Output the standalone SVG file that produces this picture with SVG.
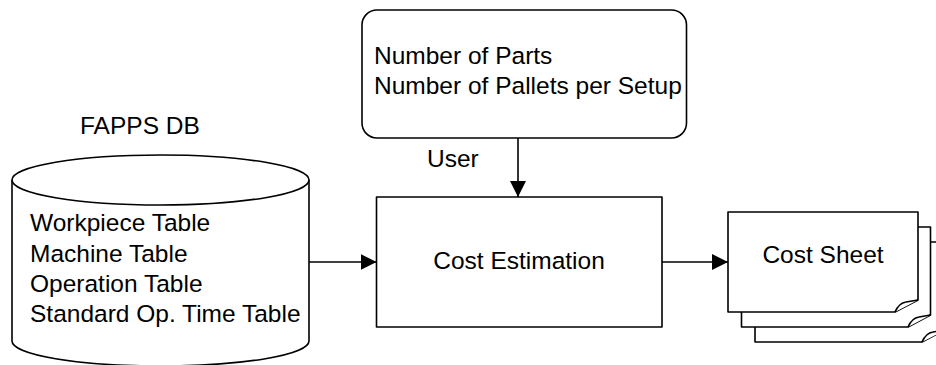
<svg xmlns="http://www.w3.org/2000/svg" width="936" height="365" viewBox="0 0 936 365">
  <style>
    .shape { fill: #ffffff; stroke: #000000; stroke-width: 1.6; stroke-linejoin: round; }
    .line { fill: none; stroke: #000000; stroke-width: 1.6; }
    .label { font-family: "Liberation Sans", Arial, sans-serif; font-size: 24.5px; fill: #000000; }
    .mid { text-anchor: middle; }
  </style>
  <defs>
    <marker id="arrow" viewBox="0 0 16 16" refX="16" refY="8" markerWidth="16" markerHeight="16" markerUnits="userSpaceOnUse" orient="auto">
      <path d="M0,0 L16,8 L0,16 Z" fill="#000000"/>
    </marker>
  </defs>

  <rect width="936" height="365" fill="#ffffff"/>

  <!-- database cylinder -->
  <g id="fapps-db">
    <path class="shape" d="M12,180 L12,341 A148.5,25 0 0 0 309,341 L309,180"/>
    <ellipse class="shape" cx="160.5" cy="180" rx="148.5" ry="25"/>
    <text class="label" x="80" y="134">FAPPS DB</text>
    <text class="label" x="30" y="231">Workpiece Table</text>
    <text class="label" x="30" y="262">Machine Table</text>
    <text class="label" x="30" y="292">Operation Table</text>
    <text class="label" x="30" y="322">Standard Op. Time Table</text>
  </g>

  <!-- user input box -->
  <g id="user-input">
    <rect class="shape" x="362" y="10" width="324.5" height="128" rx="15" ry="15"/>
    <text class="label" x="374" y="64">Number of Parts</text>
    <text class="label" x="374" y="94">Number of Pallets per Setup</text>
    <text class="label" x="427" y="167">User</text>
  </g>

  <!-- process box -->
  <g id="cost-estimation">
    <rect class="shape" x="376.5" y="197" width="285.5" height="130"/>
    <text class="label mid" x="519" y="269">Cost Estimation</text>
  </g>

  <!-- stack of output sheets, drawn back to front -->
  <g id="cost-sheet">
    <path class="shape" d="M755,242 H945 V330 L922,342 H755 Z"/>
    <path class="shape" d="M922,342 Q926,333 933,332 L945,330"/>
    <path class="shape" d="M741.5,227 H930.5 V315 L908,327 H741.5 Z"/>
    <path class="shape" d="M908,327 Q912,318 919,317 L930.5,315"/>
    <path class="shape" d="M728,212 H918 V300 L895,312 H728 Z"/>
    <path class="shape" d="M895,312 Q899,303 906,302 L918,300"/>
    <text class="label mid" x="823" y="263">Cost Sheet</text>
  </g>

  <!-- connectors -->
  <g id="connectors">
    <line class="line" x1="518" y1="138" x2="518" y2="197" marker-end="url(#arrow)"/>
    <line class="line" x1="309" y1="262" x2="376.5" y2="262" marker-end="url(#arrow)"/>
    <line class="line" x1="662" y1="262" x2="728" y2="262" marker-end="url(#arrow)"/>
  </g>
</svg>
